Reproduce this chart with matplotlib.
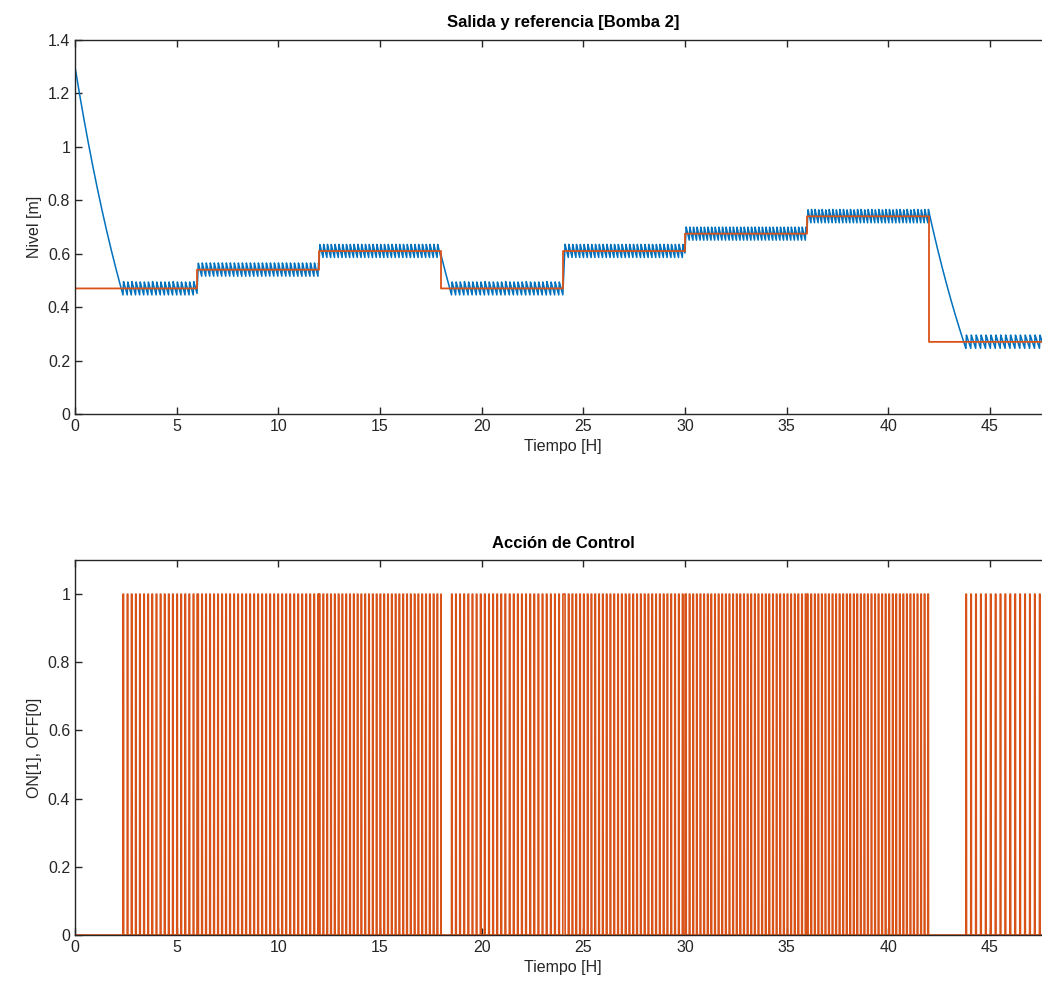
import numpy as np
import matplotlib
matplotlib.use("Agg")
import matplotlib.pyplot as plt
from matplotlib.ticker import FormatStrFormatter

# referencia por tramos (horas, metros)
t_steps = [0, 6, 12, 18, 24, 30, 36, 42]
ref_levels = [0.47, 0.54, 0.61, 0.47, 0.61, 0.675, 0.74, 0.27]
t_end = 48
h0 = 1.30          # nivel inicial
band = 0.024       # histeresis del controlador ON/OFF
q_pump = 2.0       # llenado con bomba encendida [m/h]
q_out0 = 0.17      # descarga base [m/h]
q_out1 = 0.23      # descarga proporcional al nivel [1/h]
dt = 0.001

# simulacion del tanque con control ON/OFF
t = np.arange(0, t_end + dt, dt)
idx = np.searchsorted(t_steps, t, side="right") - 1
ref = np.array(ref_levels)[idx]
h = np.zeros_like(t)
u = np.zeros_like(t)
h[0] = h0
on = 0
for i in range(len(t)):
    if h[i] < ref[i] - band:
        on = 1
    elif h[i] > ref[i] + band:
        on = 0
    u[i] = on
    if i + 1 < len(t):
        h[i + 1] = max(h[i] + dt * (q_pump * on - q_out0 - q_out1 * h[i]), 0)

blue = "#0072BD"
orange = "#D95319"
gray = "#262626"
plt.rcParams["font.family"] = ["Liberation Sans", "DejaVu Sans"]
plt.rcParams["font.size"] = 11.5

fig = plt.figure(figsize=(10.42, 9.99), dpi=100)
ax1 = fig.add_axes([75 / 1042, 1 - 414 / 999, 976 / 1042, 374 / 999])
ax2 = fig.add_axes([75 / 1042, 1 - 935 / 999, 976 / 1042, 375 / 999])

ax1.plot(t, h, color=blue, lw=1.1)
ax1.step(t, ref, where="post", color=orange, lw=1.3)
ax1.set_ylim(0, 1.4)
ax1.set_yticks(np.arange(0, 1.41, 0.2))
ax1.set_title("Salida y referencia [Bomba 2]", fontweight="bold", fontsize=12, pad=9)
ax1.set_ylabel("Nivel [m]", color=gray)

ax2.plot(t, u, color=orange, lw=1.2)
ax2.set_ylim(0, 1.1)
ax2.set_yticks(np.arange(0, 1.01, 0.2))
ax2.set_title("Acción de Control", fontweight="bold", fontsize=12, pad=9)
ax2.set_ylabel("ON[1], OFF[0]", color=gray)

for ax in (ax1, ax2):
    ax.set_xlim(0, t_end)
    ax.set_xticks(range(0, 46, 5))
    ax.set_xlabel("Tiempo [H]", color=gray)
    ax.yaxis.set_major_formatter(FormatStrFormatter("%g"))
    ax.tick_params(direction="in", top=True, right=True, length=5, width=1,
                   colors=gray, labelsize=11.5)
    for s in ax.spines.values():
        s.set_color(gray)
        s.set_linewidth(1)

fig.savefig("out.png", dpi=100)
